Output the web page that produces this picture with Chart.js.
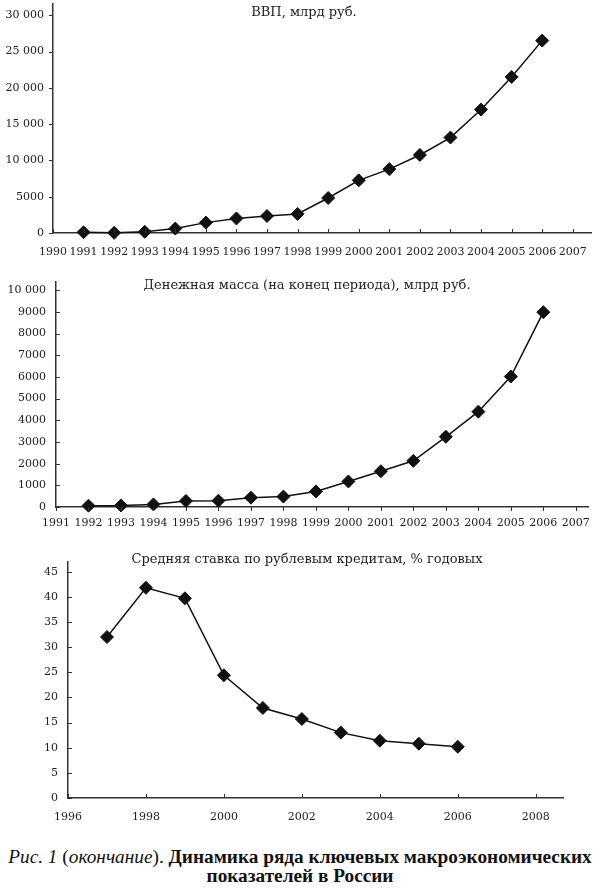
<!DOCTYPE html>
<html>
<head>
<meta charset="utf-8">
<script src="https://cdn.jsdelivr.net/npm/chart.js@4/dist/chart.umd.min.js"></script>
<style>
  body { margin: 0; background: #fff; width: 600px; height: 889px; position: relative; overflow: hidden; }
  canvas { position: absolute; left: 0; }
  .ttl { position: absolute; width: 600px; text-align: center; font: 13px 'DejaVu Serif', serif; color: #222; white-space: nowrap; }
  .cap { position: absolute; left: 0; top: 847px; width: 600px; text-align: center; font: 19.3px 'Liberation Serif', serif; line-height: 19px; color: #111; }
  .cap b { font-weight: bold; }
</style>
</head>
<body>
<canvas id="c-gdp" width="600" height="277" style="top:-12px"></canvas>
<canvas id="c-m2" width="600" height="270" style="top:265px"></canvas>
<canvas id="c-rate" width="600" height="285" style="top:545px"></canvas>

<div class="ttl" style="left:4px;top:4px">ВВП, млрд руб.</div>
<div class="ttl" style="left:7px;top:277px">Денежная масса (на конец периода), млрд руб.</div>
<div class="ttl" style="left:7px;top:551px">Средняя ставка по рублевым кредитам, % годовых</div>
<div class="cap"><i>Рис. 1</i> (<i>окончание</i>). <b>Динамика ряда ключевых макроэкономических<br>показателей в России</b></div>

<script>
// GDP, bn rub
const gdpYears = [1991, 1992, 1993, 1994, 1995, 1996, 1997, 1998, 1999, 2000, 2001, 2002, 2003, 2004, 2005, 2006]
const gdpValues = [100, 20, 170, 610, 1430, 2010, 2340, 2630, 4820, 7250, 8800, 10750, 13150, 17000, 21500, 26500]

// money supply, end of period, bn rub
const m2Years = [1992, 1993, 1994, 1995, 1996, 1997, 1998, 1999, 2000, 2001, 2002, 2003, 2004, 2005, 2006]
const m2Values = [60, 70, 120, 280, 290, 430, 480, 720, 1180, 1650, 2130, 3240, 4400, 6020, 8990]

// average rate on rouble loans, % p.a.
const rateYears = [1997, 1998, 1999, 2000, 2001, 2002, 2003, 2004, 2005, 2006]
const rateValues = [32.0, 41.8, 39.7, 24.4, 17.9, 15.7, 13.0, 11.4, 10.8, 10.2]

const INK = '#111'
const AXIS = '#333'
const tickFont = { family: 'DejaVu Serif', size: 11 }

const fmtNum = v => v >= 10000 ? String(v).replace(/\B(?=(\d{3})+(?!\d))/g, ' ') : String(v)

// evenly stepped ticks up to (not past) the axis end
const stepTicks = (min, max, step) => {
  const out = []
  for (let v = min; v <= max + 1e-9; v += step) out.push({ value: v })
  return out
}

// tick marks drawn by hand so they can point in or out like the print
const tickMarks = {
  id: 'tickMarks',
  afterDraw(chart, args, opts) {
    const ctx = chart.ctx
    const xs = chart.scales.x, ys = chart.scales.y
    ctx.save()
    ctx.strokeStyle = AXIS
    ctx.lineWidth = 1
    ctx.beginPath()
    xs.ticks.forEach(t => {
      const px = Math.round(xs.getPixelForValue(t.value)) + 0.5
      ctx.moveTo(px, xs.top)
      ctx.lineTo(px, xs.top + opts.xDir * 4)
    })
    ys.ticks.forEach(t => {
      const py = Math.round(ys.getPixelForValue(t.value)) + 0.5
      ctx.moveTo(ys.right, py)
      ctx.lineTo(ys.right + opts.yDir * 4, py)
    })
    ctx.stroke()
    ctx.restore()
  }
}

function makeChart(id, o) {
  const pts = o.years.map((yr, i) => ({ x: yr, y: o.values[i] }))
  return new Chart(document.getElementById(id), {
    type: 'line',
    data: {
      datasets: [{
        data: pts,
        borderColor: INK,
        borderWidth: 1.5,
        backgroundColor: INK,
        pointStyle: 'rectRot',
        pointRadius: 6.5,
        pointBorderWidth: 1,
        pointBorderColor: INK,
        pointBackgroundColor: INK,
        tension: 0,
        clip: false
      }]
    },
    plugins: [tickMarks],
    options: {
      responsive: false,
      animation: false,
      // top padding covers the tick-label overhang; canvases are shifted to compensate
      layout: { padding: { top: 15, right: o.right, left: 0, bottom: 0 } },
      plugins: {
        legend: { display: false },
        tooltip: { enabled: false },
        tickMarks: { xDir: o.xDir, yDir: o.yDir }
      },
      scales: {
        x: {
          type: 'linear',
          min: o.xMin,
          max: o.xMax,
          afterBuildTicks: s => { s.ticks = stepTicks(o.xMin, o.xMax, o.xStep) },
          afterFit: s => { s.height = o.xHeight },
          ticks: { autoSkip: false, maxRotation: 0, padding: o.xPad, color: '#222', font: tickFont, callback: v => String(v) },
          grid: { display: false, drawTicks: false },
          border: { color: AXIS, width: 1.5 }
        },
        y: {
          min: 0,
          max: o.yMax,
          afterBuildTicks: s => { s.ticks = stepTicks(0, o.yMax, o.yStep) },
          afterFit: s => { s.width = o.axisX },
          ticks: { autoSkip: false, padding: o.yPad, color: '#222', font: tickFont, callback: fmtNum },
          grid: { display: false, drawTicks: false },
          border: { color: AXIS, width: 1.5 }
        }
      }
    }
  })
}

makeChart('c-gdp', {
  years: gdpYears, values: gdpValues,
  xMin: 1990, xMax: 2007.6, xStep: 1, yMax: 31600, yStep: 5000,
  axisX: 53, right: 3, xHeight: 32, xPad: 13, yPad: 9, xDir: -1, yDir: -1
})

makeChart('c-m2', {
  years: m2Years, values: m2Values,
  xMin: 1991, xMax: 2007.4, xStep: 1, yMax: 10400, yStep: 1000,
  axisX: 56, right: 7, xHeight: 28, xPad: 10, yPad: 10, xDir: 1, yDir: 1
})

makeChart('c-rate', {
  years: rateYears, values: rateValues,
  xMin: 1996, xMax: 2008.7, xStep: 2, yMax: 47, yStep: 5,
  axisX: 68, right: 37, xHeight: 32, xPad: 13, yPad: 10, xDir: -1, yDir: 1
})
</script>
</body>
</html>
